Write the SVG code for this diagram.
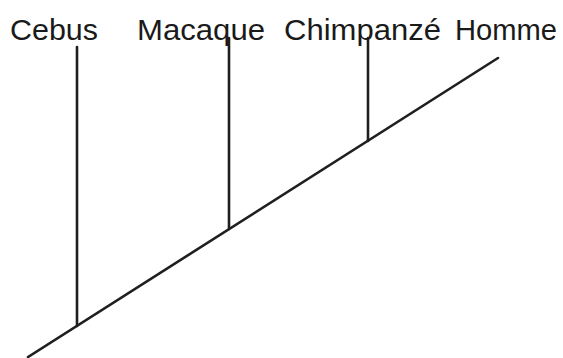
<svg xmlns="http://www.w3.org/2000/svg" width="563" height="358" viewBox="0 0 563 358">
<style>
.lbl{font-family:"Liberation Sans",Arial,sans-serif;font-size:30px;fill:#1a1a1a}
.br{stroke:#1f1f1f;stroke-width:2.6;fill:none;stroke-linecap:round}
</style>
<rect width="563" height="358" fill="#ffffff"/>
<g id="connectors">
<line class="br" x1="28" y1="357" x2="498" y2="58"/>
<line class="br" x1="77" y1="47" x2="77" y2="326"/>
<line class="br" x1="229" y1="38" x2="229" y2="229"/>
<line class="br" x1="368" y1="38" x2="368" y2="141"/>
</g>
<g id="cebus"><text class="lbl" x="10" y="39.5" textLength="88" lengthAdjust="spacingAndGlyphs">Cebus</text></g>
<g id="macaque"><text class="lbl" x="137" y="39.5" textLength="128" lengthAdjust="spacingAndGlyphs">Macaque</text></g>
<g id="chimpanze"><text class="lbl" x="284" y="39.5" textLength="157" lengthAdjust="spacingAndGlyphs">Chimpanzé</text></g>
<g id="homme"><text class="lbl" x="455" y="39.5" textLength="102" lengthAdjust="spacingAndGlyphs">Homme</text></g>
</svg>
